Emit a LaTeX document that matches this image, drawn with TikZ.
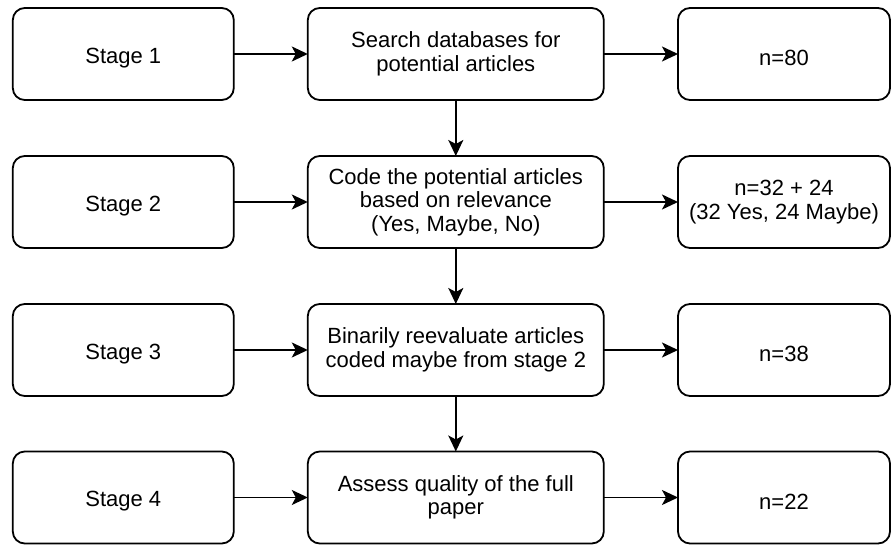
\documentclass[tikz,border=0pt]{standalone}
\usepackage{fontspec}
\setmainfont{Liberation Sans}
\usetikzlibrary{arrows.meta}
\begin{document}
\begin{tikzpicture}[x=1pt,y=-1pt,
  box/.style={draw=black, line width=1.8pt, rounded corners=12pt,
    inner sep=0pt, outer sep=0pt, minimum height=92pt, align=center,
    font=\fontsize{22}{23.5}\selectfont,
    execute at begin node={\rule{0pt}{23pt}}},
  stagebox/.style={box, minimum width=221pt},
  taskbox/.style={box, minimum width=296pt},
  countbox/.style={box, minimum width=212pt},
  flow/.style={line width=1.8pt, -{Stealth[length=16pt,width=15pt,inset=4pt]}}
]
\useasboundingbox (0,0) rectangle (892,545);

% stage labels
\node[stagebox] (s1) at (123.3,54) {Stage 1};
\node[stagebox] (s2) at (123.3,202) {Stage 2};
\node[stagebox] (s3) at (123.3,350) {Stage 3};
\node[stagebox] (s4) at (123.3,497.5) {Stage 4};

% tasks
\node[taskbox] (t1) at (455.8,54) {Search databases for\\potential articles};
\node[taskbox] (t2) at (455.8,202) {Code the potential articles\\based on relevance\\(Yes, Maybe, No)};
\node[taskbox] (t3) at (455.8,350) {Binarily reevaluate articles\\coded maybe from stage 2};
\node[taskbox] (t4) at (455.8,497.5) {Assess quality of the full\\paper};

% article counts
\node[countbox] (c1) at (784,54) {n=80};
\node[countbox] (c2) at (784,202) {n=32 + 24\\(32 Yes, 24 Maybe)};
\node[countbox] (c3) at (784,350) {n=38};
\node[countbox] (c4) at (784,497.5) {n=22};

% connectors
\foreach \i in {1,2,3,4} {
  \draw[flow] (s\i) -- (t\i);
  \draw[flow] (t\i) -- (c\i);
}
\draw[flow] (t1) -- (t2);
\draw[flow] (t2) -- (t3);
\draw[flow] (t3) -- (t4);
\end{tikzpicture}
\end{document}
